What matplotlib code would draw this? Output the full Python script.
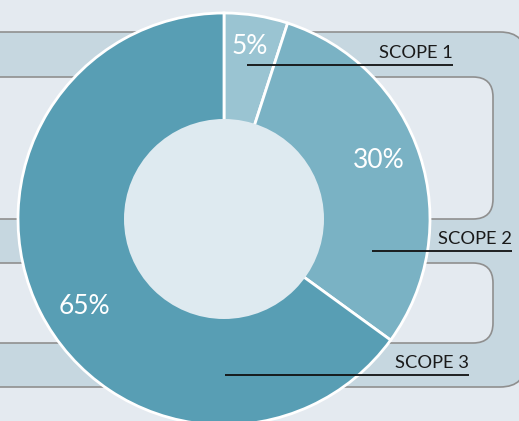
import matplotlib
matplotlib.use("Agg")
import matplotlib.pyplot as plt
from matplotlib.patches import FancyBboxPatch, Circle

# data
scopes = ["SCOPE 1", "SCOPE 2", "SCOPE 3"]
shares = [5, 30, 65]
slice_colors = ["#9ac4d2", "#7ab2c4", "#589eb4"]

BG = "#e4eaf0"
BAND = "#c6d7e0"
HOLE = "#e4eaf0"
EDGE = "#8f8f8f"
CENTER = "#deeaf0"

plt.rcParams["font.family"] = ["Lato", "DejaVu Sans"]

fig = plt.figure(figsize=(5.19, 4.21), dpi=100, facecolor=BG)
ax = fig.add_axes([0, 0, 1, 1])
ax.set_facecolor(BG)

# bracket-shaped band behind the donut (pixel coords, y down)
outer = FancyBboxPatch((-40, 32), 566, 355, boxstyle="round,pad=0,rounding_size=26",
                       fc=BAND, ec=EDGE, lw=1.2, zorder=1)
ax.add_patch(outer)
for y0, y1 in [(77, 219), (263, 343)]:
    ax.add_patch(FancyBboxPatch((-40, y0), 533, y1 - y0,
                                boxstyle="round,pad=0,rounding_size=20",
                                fc=HOLE, ec=EDGE, lw=1.2, zorder=2))

cx, cy, r_out, r_in = 224, 219, 206, 100
wedges, _, pcts = ax.pie(shares, colors=slice_colors, center=(cx, cy), radius=r_out,
                         startangle=-90, counterclock=True, frame=True,
                         autopct="%d%%", pctdistance=0.8,
                         wedgeprops=dict(edgecolor="white", linewidth=2.0),
                         textprops=dict(color="white", fontsize=19))
for w in wedges:
    w.set_zorder(3)
# nudge the percent labels to where the original has them
for t, pos in zip(pcts, [(250, 46), (379, 161), (84, 307)]):
    t.set_position(pos)
    t.set_zorder(6)

ax.add_patch(Circle((cx, cy), r_in, fc=CENTER, ec="none", zorder=4))

# leader lines with labels on top
label_lines = [(247, 453, 65), (372, 512, 251), (225, 469, 375)]
for name, (x0, x1, y) in zip(scopes, label_lines):
    ax.plot([x0, x1], [y, y], color="#111111", lw=1.3, zorder=5, solid_capstyle="butt")
    ax.text(x1, y - 4, name, ha="right", va="bottom", fontsize=13.2,
            color="#1a1a1a", zorder=6)

ax.set_xlim(0, 519)
ax.set_ylim(421, 0)
ax.set_aspect("auto")
ax.axis("off")

fig.savefig("out.png", dpi=100, facecolor=BG)
